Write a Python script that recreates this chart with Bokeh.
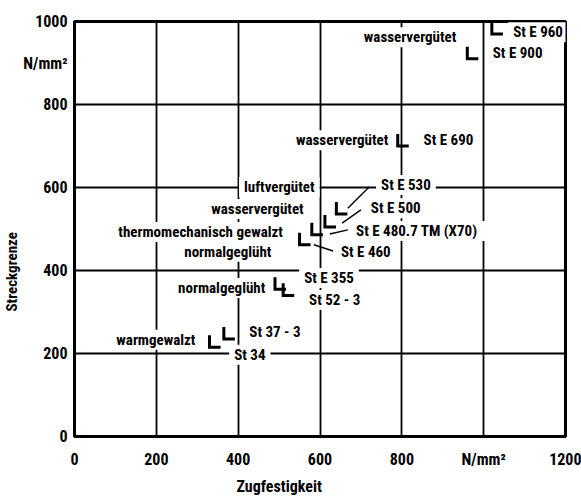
from bokeh.plotting import figure
from bokeh.models import Range1d, FixedTicker, Title, ColumnDataSource
from bokeh.core.properties import value
from bokeh.embed import file_html
from bokeh.resources import INLINE

# Steel grades: tensile strength (Rm) and yield strength (Re), N/mm²
grades = ["St 34", "St 37-3", "St E 355", "St 52-3", "St E 460", "St E 480.7 TM",
          "St E 500", "St E 530", "St E 690", "St E 900", "St E 960"]
tensile = [330, 365, 490, 510, 550, 580, 612, 640, 790, 960, 1020]
yield_ = [215, 235, 355, 340, 462, 486, 505, 536, 700, 910, 970]

x_ticks = [0, 200, 400, 600, 800, 1000, 1200]
y_ticks = [0, 200, 400, 600, 800, 900, 1000]
unit = "N/mm²"

# Annotation texts and where they sit (data coordinates, left-anchored)
label_text = ["wasservergütet", "St E 960", "St E 900",
              "wasservergütet", "St E 690",
              "luftvergütet", "St E 530",
              "wasservergütet", "St E 500",
              "thermomechanisch gewalzt", "St E 480.7 TM  (X70)",
              "normalgeglüht", "St E 460",
              "St E 355", "normalgeglüht", "St 52 - 3",
              "warmgewalzt", "St 37 - 3", "St 34"]
label_x = [695, 1060, 1010,
           529, 841,
           402, 737,
           322, 712,
           95, 676,
           256, 639,
           549, 241, 561,
           90, 415, 378]
label_y = [962, 974, 925,
           714, 714,
           601, 606,
           548, 550,
           493, 495,
           445, 445,
           382, 358, 329,
           233, 252, 197]

# Leader lines from the markers to their grade names
leader_x0 = [668, 654, 624, 585]
leader_y0 = [550, 514, 488, 462]
leader_x1 = [720, 700, 668, 632]
leader_y1 = [601, 546, 498, 447]

FONT = "Roboto Condensed, DejaVu Sans Condensed, Roboto"

p = figure(width=581, height=498, output_backend="svg", toolbar_location=None,
           x_range=Range1d(0, 1200), y_range=Range1d(0, 1000),
           min_border_left=73, min_border_right=16,
           min_border_top=21, min_border_bottom=61,
           background_fill_color="white", border_fill_color="white")

p.outline_line_color = "black"
p.outline_line_width = 3

p.xaxis.ticker = FixedTicker(ticks=x_ticks)
p.yaxis.ticker = FixedTicker(ticks=y_ticks)
p.xaxis.major_label_overrides = {1000: unit}
p.yaxis.major_label_overrides = {900: unit}
for ax in (p.xaxis, p.yaxis):
    ax.axis_line_color = "black"
    ax.axis_line_width = 3
    ax.major_tick_line_color = None
    ax.minor_tick_line_color = None
    ax.major_tick_out = 0
    ax.major_tick_in = 0
    ax.minor_tick_out = 0
    ax.minor_tick_in = 0
    ax.major_label_text_font = FONT
    ax.major_label_text_font_style = "bold"
    ax.major_label_text_font_size = "16px"
    ax.major_label_text_color = "black"
p.xaxis.major_label_standoff = 13
p.yaxis.major_label_standoff = 7

p.xgrid.ticker = FixedTicker(ticks=[200, 400, 600, 800, 1000])
p.ygrid.ticker = FixedTicker(ticks=[200, 400, 600, 800])
for g in (p.xgrid, p.ygrid):
    g.grid_line_color = "black"
    g.grid_line_width = 1.8
    g.grid_line_alpha = 1.0

# Labels with white boxes that interrupt the grid lines
p.text(x=label_x, y=label_y, text=label_text,
       text_font=value(FONT), text_font_style="bold", text_font_size="15px",
       text_color="black", text_align="left", text_baseline="middle",
       background_fill_color="white", padding=dict(x=5, y=1))

p.segment(x0=leader_x0, y0=leader_y0, x1=leader_x1, y1=leader_y1,
          line_color="black", line_width=1.4)

# L-shaped markers: corner at (Rm, Re)
arm_x, arm_y = 27, 29
src = ColumnDataSource(dict(
    xs=[[x, x, x + arm_x] for x in tensile],
    ys=[[y + arm_y, y, y] for y in yield_],
    grade=grades,
))
p.multi_line(xs="xs", ys="ys", source=src, line_color="black", line_width=3,
             line_join="miter", line_cap="butt")

# Axis titles, placed off-centre along the frame edges
p.add_layout(Title(text="Streckgrenze", align="left", offset=125,
                   text_font=FONT, text_font_style="bold", text_font_size="15px",
                   text_color="black", standoff=0), "left")
p.add_layout(Title(text="Zugfestigkeit", align="left", offset=162,
                   text_font=FONT, text_font_style="bold", text_font_size="16px",
                   text_color="black", standoff=6), "below")

open("out.html", "w").write(file_html(p, INLINE))
